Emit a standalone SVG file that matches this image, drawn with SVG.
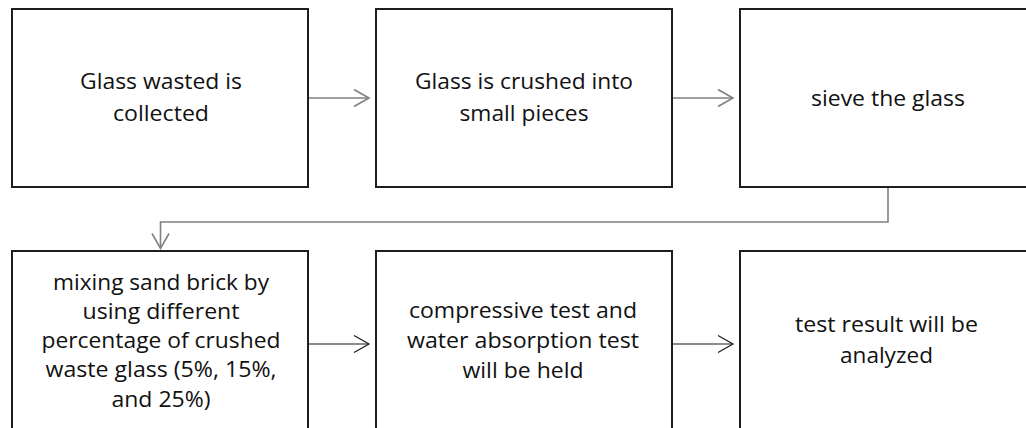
<svg xmlns="http://www.w3.org/2000/svg" width="1026" height="428" viewBox="0 0 1026 428">
<style>
.box{fill:#fff;stroke:#1e1e1e;stroke-width:2}
.t{font-family:"Open Sans","Noto Sans","Liberation Sans",sans-serif;font-size:22px;fill:#111;text-anchor:middle;font-variant-ligatures:none}
.cg{fill:none;stroke:#808080;stroke-width:1.6}
.ck{fill:none;stroke:#1a1a1a;stroke-width:1.2}
</style>
<defs>
<marker id="ag" viewBox="-17 -10 19 20" refX="0" refY="0" markerWidth="19" markerHeight="20" markerUnits="userSpaceOnUse" orient="auto">
<path d="M-15,-8.5 L0,0 L-15,8.5" fill="none" stroke="#808080" stroke-width="1.6"/>
</marker>
<marker id="ak" viewBox="-17 -10 19 20" refX="0" refY="0" markerWidth="19" markerHeight="20" markerUnits="userSpaceOnUse" orient="auto">
<path d="M-15,-8.5 L0,0 L-15,8.5" fill="none" stroke="#1a1a1a" stroke-width="1.2"/>
</marker>
</defs>
<rect width="1026" height="428" fill="#fff"/>
<g id="connectors">
<path class="cg" d="M309,98 H369" marker-end="url(#ag)"/>
<path class="cg" d="M673,98 H733" marker-end="url(#ag)"/>
<path class="cg" d="M888,188 V222 H160.5 V248.5" marker-end="url(#ag)"/>
<path class="ck" d="M309,344 H369" marker-end="url(#ak)"/>
<path class="ck" d="M673,344 H733" marker-end="url(#ak)"/>
</g>
<g id="n1">
<rect class="box" x="12" y="9" width="296" height="178"/>
<text class="t" x="161" y="89" textLength="162" lengthAdjust="spacingAndGlyphs">Glass wasted is</text>
<text class="t" x="161" y="120.5" textLength="96" lengthAdjust="spacingAndGlyphs">collected</text>
</g>
<g id="n2">
<rect class="box" x="376" y="9" width="296" height="178"/>
<text class="t" x="524" y="89" textLength="218" lengthAdjust="spacingAndGlyphs">Glass is crushed into</text>
<text class="t" x="524" y="120.5" textLength="129" lengthAdjust="spacingAndGlyphs">small pieces</text>
</g>
<g id="n3">
<rect class="box" x="740" y="9" width="296" height="178"/>
<text class="t" x="888" y="105.5" textLength="154" lengthAdjust="spacingAndGlyphs">sieve the glass</text>
</g>
<g id="n4">
<rect class="box" x="12" y="251" width="296" height="190"/>
<text class="t" x="161" y="290" textLength="216" lengthAdjust="spacingAndGlyphs">mixing sand brick by</text>
<text class="t" x="161" y="318.5" textLength="157" lengthAdjust="spacingAndGlyphs">using different</text>
<text class="t" x="161" y="347.7" textLength="239" lengthAdjust="spacingAndGlyphs">percentage of crushed</text>
<text class="t" x="161" y="377" textLength="231" lengthAdjust="spacingAndGlyphs">waste glass (5%, 15%,</text>
<text class="t" x="161" y="406.5" textLength="99" lengthAdjust="spacingAndGlyphs">and 25%)</text>
</g>
<g id="n5">
<rect class="box" x="376" y="251" width="296" height="190"/>
<text class="t" x="523" y="318.3" textLength="228" lengthAdjust="spacingAndGlyphs">compressive test and</text>
<text class="t" x="523" y="347.7" textLength="232" lengthAdjust="spacingAndGlyphs">water absorption test</text>
<text class="t" x="523" y="377.5" textLength="121" lengthAdjust="spacingAndGlyphs">will be held</text>
</g>
<g id="n6">
<rect class="box" x="740" y="251" width="296" height="190"/>
<text class="t" x="886.5" y="331.7" textLength="183" lengthAdjust="spacingAndGlyphs">test result will be</text>
<text class="t" x="886.5" y="362.7" textLength="93" lengthAdjust="spacingAndGlyphs">analyzed</text>
</g>
</svg>
